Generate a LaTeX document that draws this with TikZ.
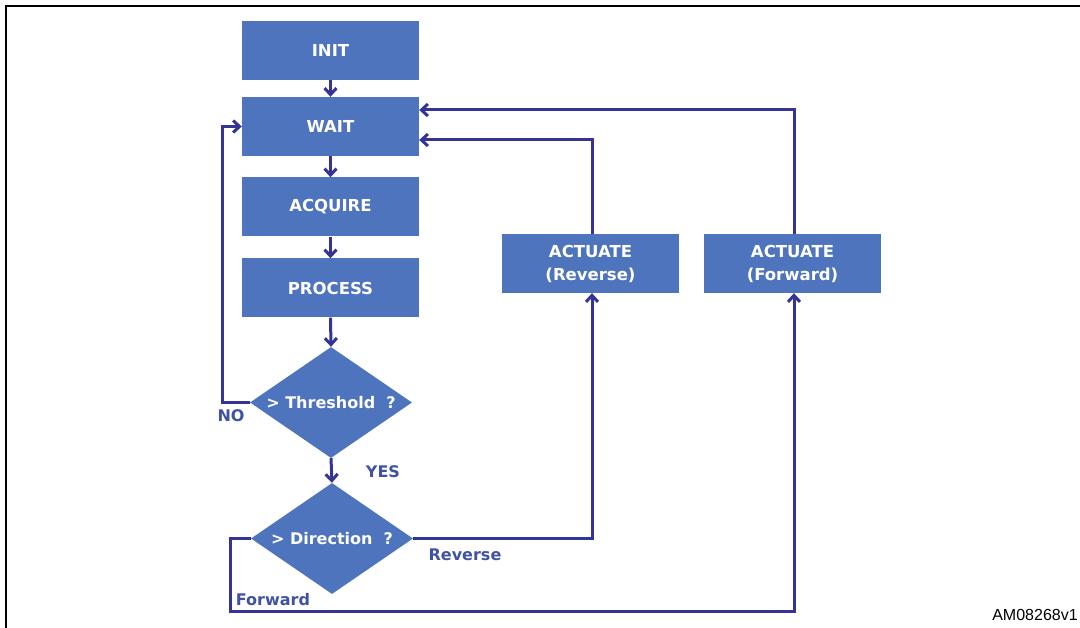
\documentclass[tikz,border=0pt]{standalone}
\usepackage{fontspec}
\setmainfont{DejaVu Sans}
\newfontfamily\labelfont{Liberation Sans}
\usetikzlibrary{shapes.geometric,arrows.meta,calc}
\definecolor{boxblue}{RGB}{79,116,190}
\definecolor{linkblue}{RGB}{52,52,150}
\definecolor{textblue}{RGB}{63,82,163}
\begin{document}
\begin{tikzpicture}[x=1pt,y=-1pt,
  box/.style={fill=boxblue,draw=none,minimum width=177pt,minimum height=59pt,inner sep=0pt,
    text=white,font=\fontsize{16.5}{23}\selectfont\bfseries,align=center},
  decision/.style={diamond,fill=boxblue,draw=none,minimum width=162pt,minimum height=111pt,
    inner sep=0pt,aspect=1.46,text=white,font=\fontsize{16}{18}\selectfont\bfseries},
  link/.style={draw=linkblue,line width=3pt,-{Straight Barb[length=6.5pt,width=12pt,line width=3pt]}},
  lbl/.style={text=textblue,font=\fontsize{16}{18}\selectfont\bfseries,inner sep=0pt}]
\useasboundingbox (0,0) rectangle (1080,628);
\draw[line width=2.3pt,black] (6,640) -- (6,6) -- (1090,6);

\node[box] (init) at (330.5,50.5) {INIT};
\node[box] (wait) at (330.5,126.5) {WAIT};
\node[box] (acq) at (330.5,207) {ACQUIRE};
\node[box] (proc) at (330.5,288) {PROCESS};
\node[decision] (thr) at (331,402.5) {> Threshold\ \ ?};
\node[decision] (dir) at (332,538.5) {> Direction\ \ ?};
\node[box] (actr) at (590.5,263.5) {ACTUATE\\(Reverse)};
\node[box] (actf) at (792.5,263.5) {ACTUATE\\(Forward)};

\draw[link] (init.south) -- (wait.north);
\draw[link] (wait.south) -- (acq.north);
\draw[link] (acq.south) -- (proc.north);
\draw[link] (proc.south) -- (thr.north);
\draw[link] (thr.south) -- (dir.north);
\draw[link] (thr.west) -- ++(-27,0) |- (wait.west);
\draw[link] (dir.east) -| ([xshift=1.5pt]actr.south);
\draw[link] ([xshift=1.5pt]actr.north) |- ($(wait.east)+(0,13.5)$);
\draw[link] ([xshift=1.5pt]actf.north) |- ($(wait.east)+(0,-16.5)$);
\draw[link] (dir.west) -- ++(-20,0) -- ++(0,73) -| ([xshift=1.5pt]actf.south);

\node[lbl] (no) at (231,416) {NO};
\node[lbl] (yes) at (383,472) {YES};
\node[lbl] (rev) at (465,555) {Reverse};
\node[lbl] (fwd) at (273,600) {Forward};
\node[font=\labelfont\fontsize{16}{18}\selectfont,inner sep=0pt] (id) at (1035,615) {AM08268v1};
\end{tikzpicture}
\end{document}
